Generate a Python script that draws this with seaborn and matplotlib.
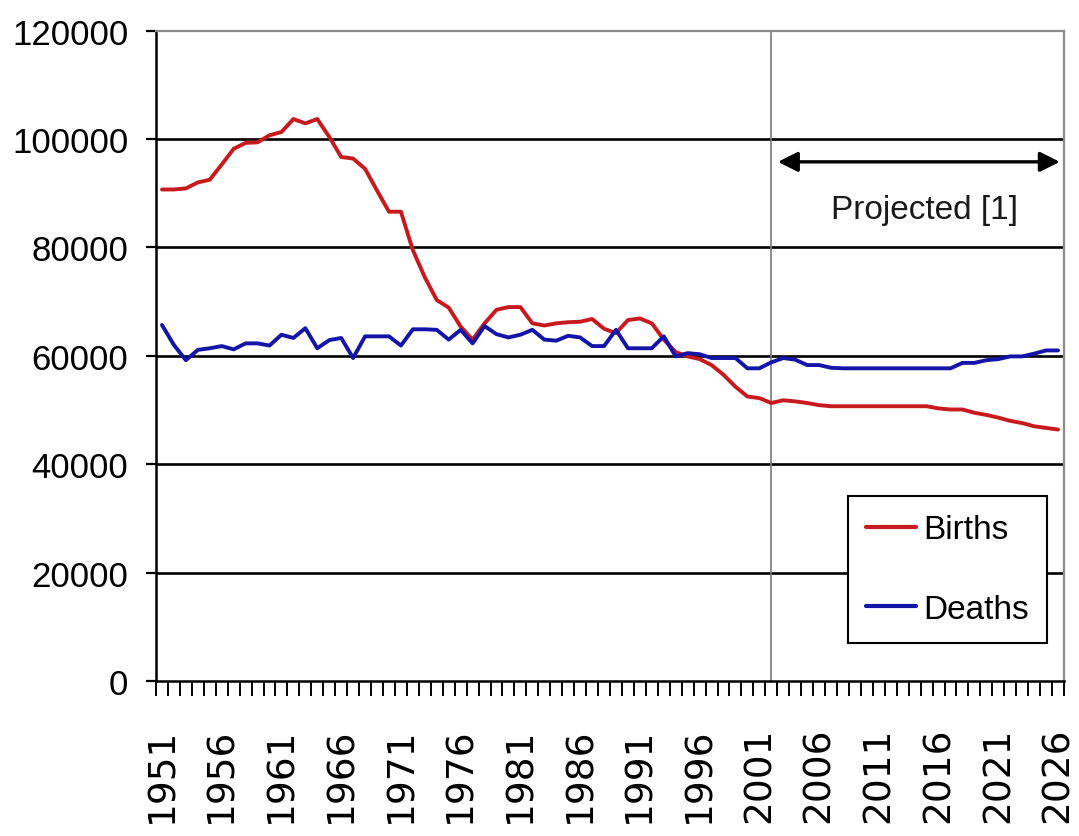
import numpy as np
import pandas as pd
import matplotlib
matplotlib.use("Agg")
import matplotlib.pyplot as plt
from matplotlib import font_manager
from matplotlib.ticker import FixedLocator
from matplotlib.lines import Line2D
import seaborn as sns

years = list(range(1951, 2027))

births = [
    90700, 90700, 90900, 92000, 92500, 95300, 98200, 99300, 99400, 100700,
    101300, 103700, 102900, 103700, 100400, 96700, 96400, 94500, 90500, 86600,
    86600, 79500, 74500, 70300, 68900, 65400, 63000, 66000, 68500, 69000,
    69000, 66000, 65600, 66000, 66200, 66300, 66800, 65000, 64200, 66600,
    66900, 66000, 63000, 60700, 59900, 59400, 58300, 56500, 54300, 52500,
    52200, 51300, 51800, 51600, 51300, 50900, 50700, 50700, 50700, 50700,
    50700, 50700, 50700, 50700, 50700, 50300, 50100, 50100, 49500, 49100,
    48600, 48000, 47600, 47000, 46700, 46400,
]

deaths = [
    65700, 62000, 59200, 61100, 61400, 61800, 61200, 62300, 62300, 61900,
    63900, 63300, 65100, 61400, 62900, 63300, 59600, 63600, 63600, 63600,
    61900, 64900, 64900, 64800, 63000, 64800, 62300, 65500, 64000, 63400,
    63900, 64800, 63000, 62800, 63700, 63400, 61800, 61800, 64800, 61400,
    61400, 61400, 63600, 59900, 60500, 60300, 59600, 59600, 59600, 57700,
    57700, 58800, 59600, 59300, 58300, 58300, 57800, 57700, 57700, 57700,
    57700, 57700, 57700, 57700, 57700, 57700, 57700, 58700, 58700, 59200,
    59400, 59900, 59900, 60400, 61000, 61000,
]

series_names = ["Births", "Deaths"]
x_tick_labels = [str(y) for y in range(1951, 2027, 5)]
y_ticks = [0, 20000, 40000, 60000, 80000, 100000, 120000]
projection_start = 2002
annotation_text = "Projected [1]"

sns.set_theme(style="white")

available = {f.name for f in font_manager.fontManager.ttflist}
if "Liberation Sans Narrow" in available:
    main_font, ysize, tsize, lsize = "Liberation Sans Narrow", 30, 29, 29
else:
    main_font, ysize, tsize, lsize = "Liberation Sans", 25, 24, 24
fam = [main_font, "DejaVu Sans"]
plt.rcParams["font.family"] = fam
plt.rcParams["text.color"] = "black"

df = pd.DataFrame({
    "Year": years * 2,
    "Value": births + deaths,
    "Series": [series_names[0]] * len(years) + [series_names[1]] * len(years),
})

W, H = 1079, 837
fig = plt.figure(figsize=(W / 100, H / 100), dpi=100)
ax = fig.add_axes([156 / W, 1 - 682 / H, (1064 - 156) / W, (682 - 31.7) / H])

red = "#c81a1e"
blue = "#1414a8"
sns.lineplot(data=df, x="Year", y="Value", hue="Series",
             palette={"Births": red, "Deaths": blue},
             linewidth=2.8, ax=ax, legend=False)

ax.set_xlim(1950.5, 2026.5)
ax.set_ylim(0, 120000)

# grid
for v in y_ticks[1:-1]:
    ax.axhline(v, color="black", linewidth=1.9, zorder=1)
ax.axvline(projection_start, color="#7a7a7a", linewidth=1.2, zorder=1)

# spines
for s in ["left", "bottom"]:
    ax.spines[s].set_color("black")
    ax.spines[s].set_linewidth(1.8)
for s in ["top", "right"]:
    ax.spines[s].set_color("#8a8a8a")
    ax.spines[s].set_linewidth(1.6)

# y ticks
ax.set_yticks(y_ticks)
ax.set_yticklabels([str(v) for v in y_ticks], fontsize=ysize, family=fam, color="black")
ax.tick_params(axis="y", direction="out", length=7, width=1.6, color="black",
               pad=13, left=True, labelcolor="black")

# x ticks
ax.xaxis.set_major_locator(FixedLocator(list(range(1951, 2027, 5))))
ax.set_xticklabels(x_tick_labels, rotation=90, fontsize=27, family=["DejaVu Sans"],
                   color="black")
ax.xaxis.set_minor_locator(FixedLocator([y + 0.5 for y in range(1950, 2027)]))
ax.tick_params(axis="x", which="major", length=0, pad=33, bottom=True)
ax.tick_params(axis="x", which="minor", direction="out", length=11, width=1.4,
               color="black", bottom=True)
for lbl in ax.get_xticklabels():
    lbl.set_verticalalignment("top")

ax.set_xlabel("")
ax.set_ylabel("")

# projection arrow
ax.annotate("", xy=(2026.15, 95800), xytext=(2002.55, 95800),
            arrowprops=dict(arrowstyle="<|-|>", color="black", lw=2.4,
                            mutation_scale=30, shrinkA=0, shrinkB=0))
ax.text(2014.8, 87000, annotation_text, ha="center", va="center",
        fontsize=tsize, color="#1a1a1a", family=fam)

# legend
handles = [Line2D([], [], color=red, lw=3), Line2D([], [], color=blue, lw=3)]
leg = ax.legend(handles, series_names, loc="lower right",
                bbox_to_anchor=(1047 / W, 1 - 644 / H), bbox_transform=fig.transFigure,
                borderaxespad=0, fancybox=False, frameon=True, framealpha=1,
                edgecolor="black", handlelength=1.5,
                handletextpad=0.2, labelspacing=1.45, borderpad=0.55,
                prop={"family": fam, "size": lsize})
leg.get_frame().set_linewidth(1.5)
for t in leg.get_texts():
    t.set_color("black")

fig.savefig("out.png", dpi=100)
